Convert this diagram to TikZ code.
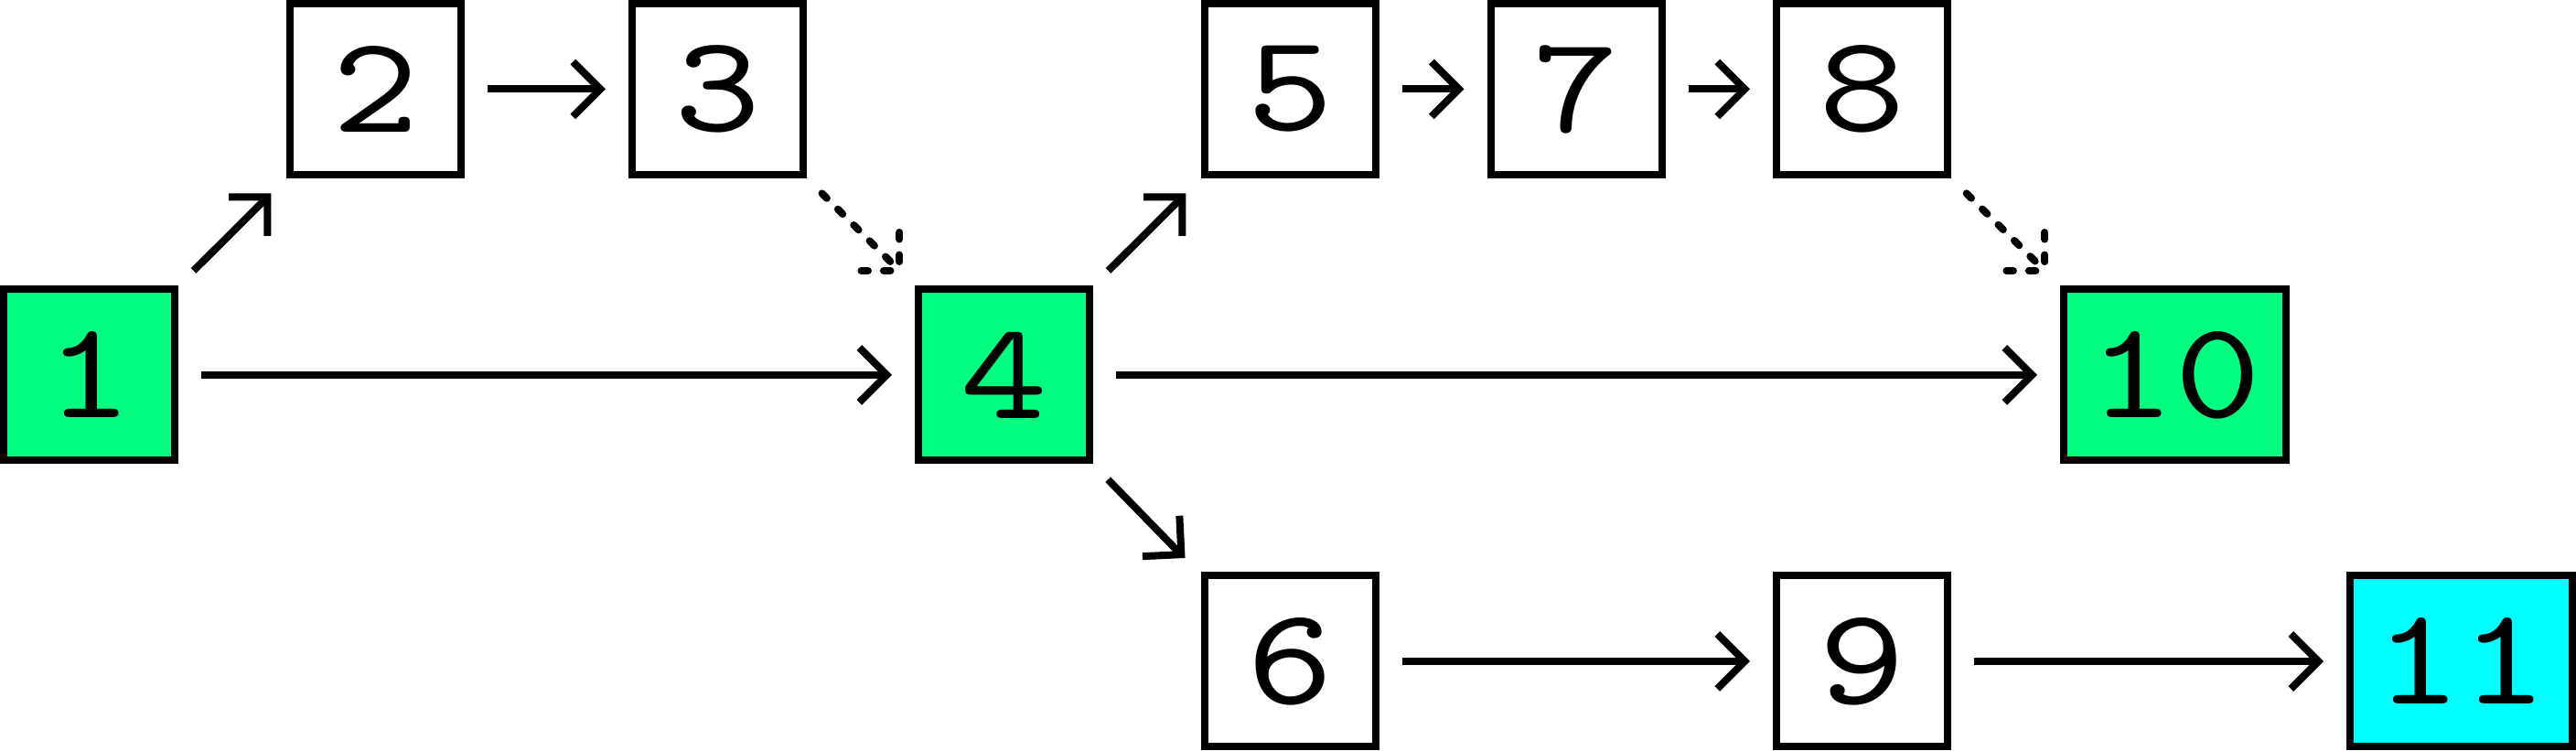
\documentclass[tikz,border=0pt]{standalone}
\usepackage{fontspec}
\newfontfamily\digitfont{lmmono10-regular.otf}[FakeStretch=1.19]
\usetikzlibrary{arrows.meta,calc}
\definecolor{boxgreen}{RGB}{0,255,127}
\definecolor{boxcyan}{RGB}{0,255,255}
\begin{document}
\begin{tikzpicture}[
  box/.style={draw=black, line width=0.08cm, minimum width=1.87cm, minimum height=1.87cm,
    inner sep=0pt, outer sep=0pt, font=\digitfont\fontsize{43}{43}\selectfont},
  widebox/.style={box, minimum width=2.43cm},
  conn/.style={line width=0.08cm, shorten <=0.29cm, shorten >=0.29cm,
    -{Straight Barb[length=0.3cm,width=0.6cm,line cap=butt,line join=miter]}},
  dline/.style={line width=0.08cm, line cap=round, dash pattern=on 0.075cm off 0.17cm},
  dconn/.style={dline, shorten <=0.29cm, shorten >=0.29cm}
]
\useasboundingbox (0,0) rectangle (28.16,8.21);

\node[box, fill=boxgreen] (n1) at (0.975,4.11) {1};
\node[box] (n2) at (4.105,7.235) {2};
\node[box] (n3) at (7.845,7.235) {3};
\node[box, fill=boxgreen] (n4) at (10.975,4.11) {4};
\node[box] (n5) at (14.105,7.235) {5};
\node[box] (n7) at (17.23,7.235) {7};
\node[box] (n8) at (20.355,7.235) {8};
\node[widebox, fill=boxgreen] (n10) at (23.775,4.11) {10};
\node[box] (n6) at (14.105,0.98) {6};
\node[box] (n9) at (20.355,0.98) {9};
\node[widebox, fill=boxcyan] (n11) at (26.905,0.98) {11};

\draw[conn] (n1.north east) -- (n2.south west);
\draw[conn] (n1.east) -- (n4.west);
\draw[conn] (n2.east) -- (n3.west);
\draw[conn] (n4.north east) -- (n5.south west);
\draw[conn] (n4.east) -- (n10.west);
\draw[conn] (n4.south east) -- (n6.north west);
\draw[conn] (n5.east) -- (n7.west);
\draw[conn] (n7.east) -- (n8.west);
\draw[conn] (n6.east) -- (n9.west);
\draw[conn] (n9.east) -- (n11.west);

\draw[dconn] (n3.south east) -- (n4.north west);
\coordinate (t34) at ($(n4.north west)!0.29cm!(n3.south east)$);
\coordinate (t34a) at ($(t34)+(0,0.42)$);
\coordinate (t34b) at ($(t34)+(-0.42,0)$);
\draw[dline] (t34a) -- (t34);
\draw[dline] (t34b) -- (t34);

\draw[dconn] (n8.south east) -- (n10.north west);
\coordinate (t810) at ($(n10.north west)!0.29cm!(n8.south east)$);
\coordinate (t810a) at ($(t810)+(0,0.42)$);
\coordinate (t810b) at ($(t810)+(-0.42,0)$);
\draw[dline] (t810a) -- (t810);
\draw[dline] (t810b) -- (t810);
\end{tikzpicture}
\end{document}
